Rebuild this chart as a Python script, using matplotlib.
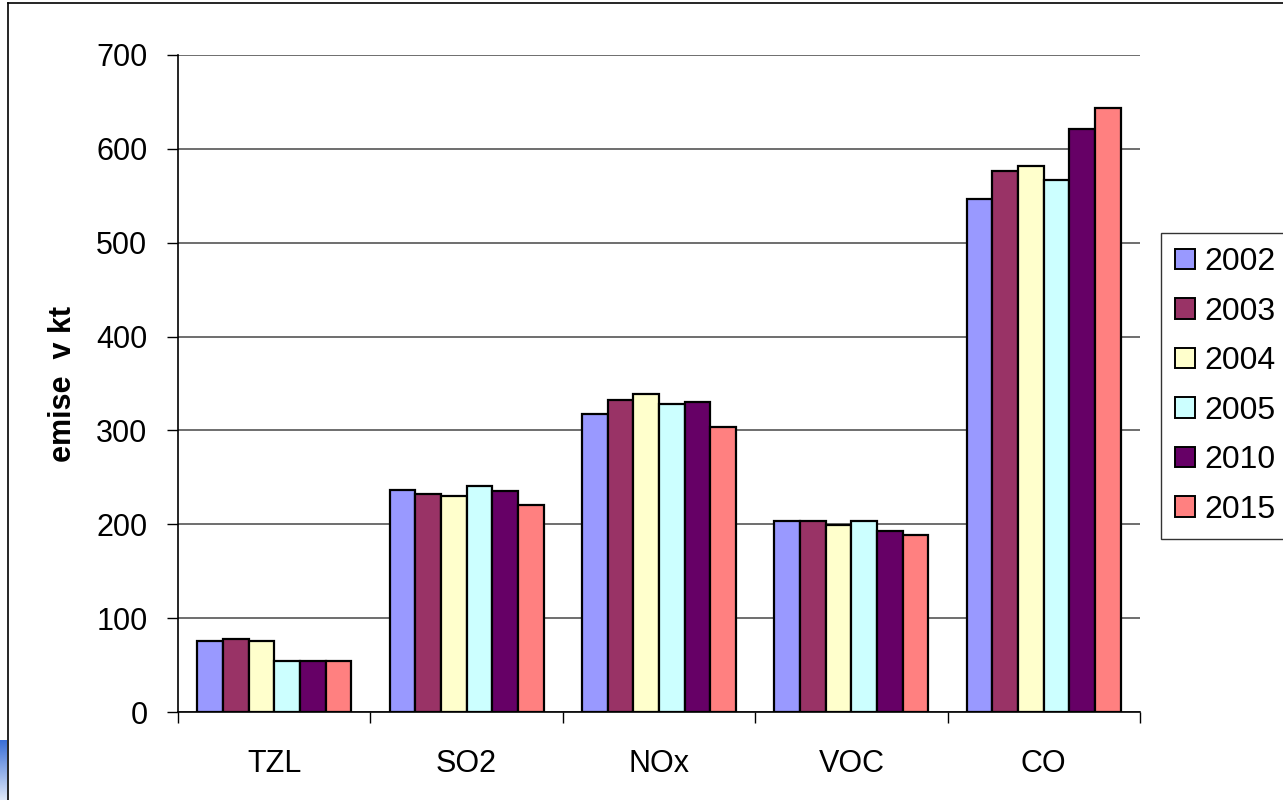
import numpy as np
import matplotlib
matplotlib.use("Agg")
import matplotlib.pyplot as plt
from matplotlib.patches import Rectangle
from matplotlib.lines import Line2D

categories = ["TZL", "SO2", "NOx", "VOC", "CO"]
years = ["2002", "2003", "2004", "2005", "2010", "2015"]
v2002 = [76, 237, 317, 204, 547]
v2003 = [78, 232, 332, 204, 576]
v2004 = [76, 230, 339, 199, 582]
v2005 = [54, 241, 328, 204, 567]
v2010 = [54, 235, 330, 193, 621]
v2015 = [54, 221, 304, 189, 643]
series = [v2002, v2003, v2004, v2005, v2010, v2015]
colors = ["#9999FF", "#993366", "#FFFFCC", "#CCFFFF", "#660066", "#FF8080"]

plt.rcParams['font.family'] = ['Liberation Sans', 'DejaVu Sans']

W, H = 1283, 800
fig = plt.figure(figsize=(W / 100, H / 100), dpi=100)
ax = fig.add_axes([178 / W, 1 - 712 / H, (1140 - 178) / W, (712 - 55) / H])

n = len(series)
group = 0.8
bw = group / n
x = np.arange(len(categories))
for i, (vals, c) in enumerate(zip(series, colors)):
    offs = -group / 2 + bw * (i + 0.5)
    ax.bar(x + offs, vals, width=bw, color=c, edgecolor="black", linewidth=1.6,
           label=years[i], zorder=3)

ax.set_xlim(-0.5, len(categories) - 0.5)
ax.set_ylim(0, 700)
ax.set_yticks(np.arange(0, 701, 100))
ax.yaxis.grid(True, color="#555555", linewidth=1.2, zorder=0)
ax.set_axisbelow(True)

ax.set_xticks(x)
ax.set_xticklabels(categories, fontsize=22)
ax.tick_params(axis='x', which='major', length=0, pad=27)
ax.set_xticks(np.arange(-0.5, len(categories), 1), minor=True)
ax.tick_params(axis='x', which='minor', length=8, width=1, direction='out', color='black')
ax.tick_params(axis='y', labelsize=22, length=8, width=1, direction='out', pad=14)

for s in ["top", "right"]:
    ax.spines[s].set_visible(False)
ax.spines["left"].set_color("black")
ax.spines["bottom"].set_color("black")
ax.spines["left"].set_linewidth(1.2)
ax.spines["bottom"].set_linewidth(1.2)

ax.set_ylabel("emise  v kt", fontsize=22, fontweight="bold", labelpad=13)

handles = [Rectangle((0, 0), 1, 1, facecolor=c, edgecolor="black", linewidth=1.4) for c in colors]
leg = fig.legend(handles, years, loc="upper left",
                 bbox_to_anchor=(1161 / W, 1 - 233 / H), fontsize=23,
                 frameon=True, fancybox=False, edgecolor="black",
                 handlelength=0.6, handleheight=0.6, handletextpad=0.3,
                 labelspacing=0.61, borderpad=0.45, borderaxespad=0)
leg.get_frame().set_linewidth(1.0)

# outer chart border
fig.add_artist(Line2D([8 / W, 8 / W], [0, 1 - 3 / H], transform=fig.transFigure, color="black", linewidth=1.2))
fig.add_artist(Line2D([8 / W, 1], [1 - 3 / H, 1 - 3 / H], transform=fig.transFigure, color="black", linewidth=1.2))

# small bluish corner
grad = np.linspace(0, 1, 64).reshape(-1, 1)
cax = fig.add_axes([0, 0, 7 / W, 60 / H])
cax.imshow(grad, aspect='auto', cmap=matplotlib.colors.LinearSegmentedColormap.from_list("g", ["#3a6fd8", "#dfe8f8"]))
cax.axis('off')

fig.savefig("out.png", dpi=100)
